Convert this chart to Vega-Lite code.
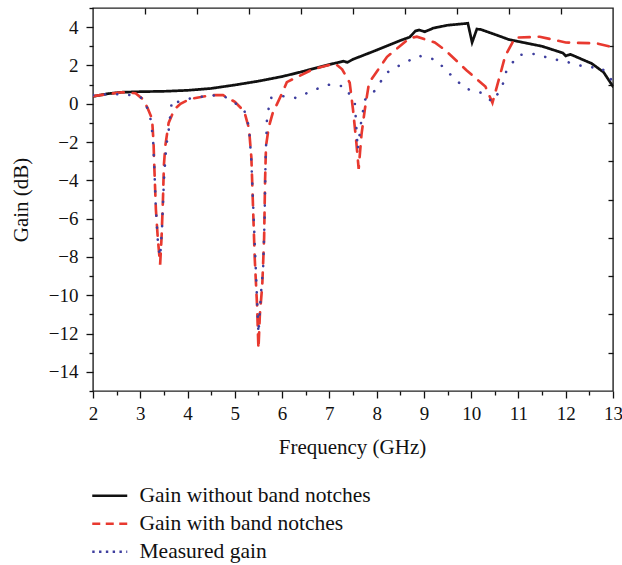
{
  "$schema": "https://vega.github.io/schema/vega-lite/v6.json",
  "width": 520,
  "height": 383,
  "autosize": "none",
  "padding": {"left": 93, "top": 8, "right": 9, "bottom": 174},
  "background": "white",
  "config": {
    "view": {"stroke": "#222", "strokeWidth": 1.4},
    "font": "Liberation Serif",
    "axis": {"grid": false, "domain": false, "tickColor": "#111", "tickWidth": 1.3, "labelFont": "Liberation Serif", "titleFont": "Liberation Serif", "labelColor": "#111", "titleColor": "#111", "titleFontWeight": "normal"},
    "legend": {"title": null, "orient": "none", "legendX": 6, "legendY": 477, "symbolType": "M-2,0H2", "symbolSize": 306, "symbolStrokeWidth": 2.6, "labelFont": "Liberation Serif", "labelFontSize": 21.5, "labelLimit": 0, "labelColor": "#111", "labelOffset": 19, "rowPadding": 5}
  },
  "data": {"values": [
    {"s": "Gain without band notches", "f": 2.0, "g": 0.38},
    {"s": "Gain without band notches", "f": 2.3, "g": 0.52},
    {"s": "Gain without band notches", "f": 2.6, "g": 0.6},
    {"s": "Gain without band notches", "f": 3.0, "g": 0.63},
    {"s": "Gain without band notches", "f": 3.5, "g": 0.65},
    {"s": "Gain without band notches", "f": 4.0, "g": 0.7},
    {"s": "Gain without band notches", "f": 4.5, "g": 0.8},
    {"s": "Gain without band notches", "f": 5.0, "g": 0.98},
    {"s": "Gain without band notches", "f": 5.5, "g": 1.18},
    {"s": "Gain without band notches", "f": 6.0, "g": 1.42},
    {"s": "Gain without band notches", "f": 6.4, "g": 1.66},
    {"s": "Gain without band notches", "f": 7.0, "g": 2.05},
    {"s": "Gain without band notches", "f": 7.3, "g": 2.22},
    {"s": "Gain without band notches", "f": 7.38, "g": 2.16},
    {"s": "Gain without band notches", "f": 7.5, "g": 2.32},
    {"s": "Gain without band notches", "f": 8.0, "g": 2.8},
    {"s": "Gain without band notches", "f": 8.5, "g": 3.3},
    {"s": "Gain without band notches", "f": 8.7, "g": 3.48},
    {"s": "Gain without band notches", "f": 8.82, "g": 3.8},
    {"s": "Gain without band notches", "f": 8.9, "g": 3.85},
    {"s": "Gain without band notches", "f": 9.02, "g": 3.76},
    {"s": "Gain without band notches", "f": 9.2, "g": 3.95},
    {"s": "Gain without band notches", "f": 9.5, "g": 4.1},
    {"s": "Gain without band notches", "f": 9.93, "g": 4.2},
    {"s": "Gain without band notches", "f": 10.02, "g": 3.2},
    {"s": "Gain without band notches", "f": 10.12, "g": 3.9},
    {"s": "Gain without band notches", "f": 10.2, "g": 3.88},
    {"s": "Gain without band notches", "f": 10.5, "g": 3.62},
    {"s": "Gain without band notches", "f": 10.8, "g": 3.35},
    {"s": "Gain without band notches", "f": 11.5, "g": 3.0},
    {"s": "Gain without band notches", "f": 11.94, "g": 2.65},
    {"s": "Gain without band notches", "f": 12.0, "g": 2.5},
    {"s": "Gain without band notches", "f": 12.1, "g": 2.58},
    {"s": "Gain without band notches", "f": 12.55, "g": 2.1},
    {"s": "Gain without band notches", "f": 12.8, "g": 1.65},
    {"s": "Gain without band notches", "f": 13.0, "g": 0.9},

    {"s": "Gain with band notches", "f": 2.0, "g": 0.4},
    {"s": "Gain with band notches", "f": 2.3, "g": 0.5},
    {"s": "Gain with band notches", "f": 2.6, "g": 0.6},
    {"s": "Gain with band notches", "f": 2.9, "g": 0.55},
    {"s": "Gain with band notches", "f": 3.05, "g": 0.25},
    {"s": "Gain with band notches", "f": 3.15, "g": -0.2},
    {"s": "Gain with band notches", "f": 3.25, "g": -0.8},
    {"s": "Gain with band notches", "f": 3.28, "g": -2.0},
    {"s": "Gain with band notches", "f": 3.3, "g": -3.5},
    {"s": "Gain with band notches", "f": 3.33, "g": -5.5},
    {"s": "Gain with band notches", "f": 3.37, "g": -7.0},
    {"s": "Gain with band notches", "f": 3.42, "g": -8.4},
    {"s": "Gain with band notches", "f": 3.45, "g": -7.0},
    {"s": "Gain with band notches", "f": 3.48, "g": -5.0},
    {"s": "Gain with band notches", "f": 3.5, "g": -3.2},
    {"s": "Gain with band notches", "f": 3.53, "g": -2.2},
    {"s": "Gain with band notches", "f": 3.6, "g": -1.0},
    {"s": "Gain with band notches", "f": 3.72, "g": -0.3},
    {"s": "Gain with band notches", "f": 3.85, "g": 0.0},
    {"s": "Gain with band notches", "f": 4.05, "g": 0.25},
    {"s": "Gain with band notches", "f": 4.5, "g": 0.45},
    {"s": "Gain with band notches", "f": 4.75, "g": 0.45},
    {"s": "Gain with band notches", "f": 5.0, "g": 0.1},
    {"s": "Gain with band notches", "f": 5.2, "g": -0.4},
    {"s": "Gain with band notches", "f": 5.3, "g": -1.3},
    {"s": "Gain with band notches", "f": 5.35, "g": -2.8},
    {"s": "Gain with band notches", "f": 5.38, "g": -5.0},
    {"s": "Gain with band notches", "f": 5.42, "g": -8.0},
    {"s": "Gain with band notches", "f": 5.47, "g": -10.5},
    {"s": "Gain with band notches", "f": 5.5, "g": -12.8},
    {"s": "Gain with band notches", "f": 5.53, "g": -11.0},
    {"s": "Gain with band notches", "f": 5.58, "g": -9.5},
    {"s": "Gain with band notches", "f": 5.62, "g": -7.0},
    {"s": "Gain with band notches", "f": 5.64, "g": -4.0},
    {"s": "Gain with band notches", "f": 5.66, "g": -2.2},
    {"s": "Gain with band notches", "f": 5.72, "g": -1.2},
    {"s": "Gain with band notches", "f": 5.8, "g": -0.5},
    {"s": "Gain with band notches", "f": 6.0, "g": 0.55},
    {"s": "Gain with band notches", "f": 6.1, "g": 1.13},
    {"s": "Gain with band notches", "f": 6.65, "g": 1.8},
    {"s": "Gain with band notches", "f": 7.12, "g": 2.1},
    {"s": "Gain with band notches", "f": 7.27, "g": 1.8},
    {"s": "Gain with band notches", "f": 7.43, "g": 1.1},
    {"s": "Gain with band notches", "f": 7.5, "g": -0.3},
    {"s": "Gain with band notches", "f": 7.57, "g": -2.0},
    {"s": "Gain with band notches", "f": 7.62, "g": -3.4},
    {"s": "Gain with band notches", "f": 7.68, "g": -1.6},
    {"s": "Gain with band notches", "f": 7.75, "g": -0.3},
    {"s": "Gain with band notches", "f": 7.84, "g": 1.1},
    {"s": "Gain with band notches", "f": 8.22, "g": 2.45},
    {"s": "Gain with band notches", "f": 8.7, "g": 3.43},
    {"s": "Gain with band notches", "f": 8.85, "g": 3.5},
    {"s": "Gain with band notches", "f": 9.23, "g": 3.2},
    {"s": "Gain with band notches", "f": 9.45, "g": 2.8},
    {"s": "Gain with band notches", "f": 9.9, "g": 1.75},
    {"s": "Gain with band notches", "f": 10.3, "g": 0.9},
    {"s": "Gain with band notches", "f": 10.45, "g": 0.05},
    {"s": "Gain with band notches", "f": 10.6, "g": 1.4},
    {"s": "Gain with band notches", "f": 10.72, "g": 2.5},
    {"s": "Gain with band notches", "f": 10.93, "g": 3.45},
    {"s": "Gain with band notches", "f": 11.45, "g": 3.5},
    {"s": "Gain with band notches", "f": 12.0, "g": 3.2},
    {"s": "Gain with band notches", "f": 12.66, "g": 3.15},
    {"s": "Gain with band notches", "f": 13.0, "g": 2.95},

    {"s": "Measured gain", "f": 2.0, "g": 0.45},
    {"s": "Measured gain", "f": 2.3, "g": 0.5},
    {"s": "Measured gain", "f": 2.5, "g": 0.5},
    {"s": "Measured gain", "f": 2.8, "g": 0.45},
    {"s": "Measured gain", "f": 3.05, "g": 0.3},
    {"s": "Measured gain", "f": 3.2, "g": -0.5},
    {"s": "Measured gain", "f": 3.27, "g": -1.8},
    {"s": "Measured gain", "f": 3.3, "g": -3.5},
    {"s": "Measured gain", "f": 3.33, "g": -5.5},
    {"s": "Measured gain", "f": 3.38, "g": -7.5},
    {"s": "Measured gain", "f": 3.42, "g": -8.0},
    {"s": "Measured gain", "f": 3.46, "g": -6.5},
    {"s": "Measured gain", "f": 3.5, "g": -4.0},
    {"s": "Measured gain", "f": 3.55, "g": -2.2},
    {"s": "Measured gain", "f": 3.6, "g": -1.4},
    {"s": "Measured gain", "f": 3.67, "g": 0.2},
    {"s": "Measured gain", "f": 3.8, "g": 0.1},
    {"s": "Measured gain", "f": 4.0, "g": 0.25},
    {"s": "Measured gain", "f": 4.5, "g": 0.45},
    {"s": "Measured gain", "f": 4.8, "g": 0.35},
    {"s": "Measured gain", "f": 5.0, "g": 0.05},
    {"s": "Measured gain", "f": 5.2, "g": -0.35},
    {"s": "Measured gain", "f": 5.3, "g": -1.2},
    {"s": "Measured gain", "f": 5.35, "g": -3.0},
    {"s": "Measured gain", "f": 5.4, "g": -6.0},
    {"s": "Measured gain", "f": 5.45, "g": -9.0},
    {"s": "Measured gain", "f": 5.5, "g": -12.0},
    {"s": "Measured gain", "f": 5.55, "g": -10.0},
    {"s": "Measured gain", "f": 5.6, "g": -8.5},
    {"s": "Measured gain", "f": 5.63, "g": -6.0},
    {"s": "Measured gain", "f": 5.65, "g": -3.0},
    {"s": "Measured gain", "f": 5.68, "g": -0.8},
    {"s": "Measured gain", "f": 5.75, "g": 0.3},
    {"s": "Measured gain", "f": 6.06, "g": 0.4},
    {"s": "Measured gain", "f": 6.3, "g": 0.3},
    {"s": "Measured gain", "f": 6.65, "g": 0.7},
    {"s": "Measured gain", "f": 7.0, "g": 1.0},
    {"s": "Measured gain", "f": 7.33, "g": 0.9},
    {"s": "Measured gain", "f": 7.54, "g": 0.0},
    {"s": "Measured gain", "f": 7.6, "g": -2.4},
    {"s": "Measured gain", "f": 7.67, "g": -1.0},
    {"s": "Measured gain", "f": 7.75, "g": 0.2},
    {"s": "Measured gain", "f": 7.97, "g": 0.7},
    {"s": "Measured gain", "f": 8.2, "g": 1.6},
    {"s": "Measured gain", "f": 8.55, "g": 2.1},
    {"s": "Measured gain", "f": 8.9, "g": 2.5},
    {"s": "Measured gain", "f": 9.25, "g": 2.3},
    {"s": "Measured gain", "f": 9.55, "g": 1.55},
    {"s": "Measured gain", "f": 9.87, "g": 0.8},
    {"s": "Measured gain", "f": 10.2, "g": 0.58},
    {"s": "Measured gain", "f": 10.45, "g": 0.1},
    {"s": "Measured gain", "f": 10.65, "g": 0.85},
    {"s": "Measured gain", "f": 10.75, "g": 1.75},
    {"s": "Measured gain", "f": 11.0, "g": 2.55},
    {"s": "Measured gain", "f": 11.35, "g": 2.6},
    {"s": "Measured gain", "f": 11.7, "g": 2.35},
    {"s": "Measured gain", "f": 12.0, "g": 2.2},
    {"s": "Measured gain", "f": 12.45, "g": 1.9},
    {"s": "Measured gain", "f": 12.75, "g": 1.9},
    {"s": "Measured gain", "f": 13.0, "g": 1.15}
  ]},
  "resolve": {"axis": {"x": "independent", "y": "independent"}, "scale": {"color": "independent", "strokeDash": "independent", "strokeWidth": "independent"}},
  "layer": [
    {
      "mark": {"type": "line", "strokeCap": "round", "clip": true},
      "encoding": {
        "x": {"field": "f", "type": "quantitative", "scale": {"domain": [2, 13], "nice": false, "zero": false},
          "axis": {"orient": "bottom", "values": [2,3,4,5,6,7,8,9,10,11,12,13], "tickSize": 7, "labelFontSize": 19, "labelPadding": 6, "labelFlush": false, "title": "Frequency (GHz)", "titleFontSize": 21, "titleBaseline": "middle", "titleX": 259, "titleY": 56}},
        "y": {"field": "g", "type": "quantitative", "scale": {"domain": [-15, 5], "nice": false, "zero": false},
          "axis": {"orient": "left", "values": [-14,-12,-10,-8,-6,-4,-2,0,2,4], "tickSize": 7, "labelFontSize": 19, "labelPadding": 8, "labelFlush": false, "title": "Gain (dB)", "titleFontSize": 21, "titleBaseline": "middle", "titleX": -72, "titleY": 191.5}},
        "strokeWidth": {"field": "s", "type": "nominal", "legend": null,
          "scale": {"domain": ["Gain without band notches", "Gain with band notches", "Measured gain"], "range": [2.7, 2.6, 3.4]}},
        "color": {"field": "s", "type": "nominal", "legend": null,
          "scale": {"domain": ["Gain without band notches", "Gain with band notches", "Measured gain"], "range": ["#111111", "#e8392f", "#3e3e9e"]}},
        "strokeDash": {"field": "s", "type": "nominal", "legend": null,
          "scale": {"domain": ["Gain without band notches", "Gain with band notches", "Measured gain"], "range": [[1, 0], [11, 9], [0.1, 12]]}}
      }
    },
    {
      "mark": {"type": "point", "opacity": 0},
      "encoding": {
        "x": {"field": "f", "type": "quantitative", "axis": {"orient": "bottom", "values": [2.5,3.5,4.5,5.5,6.5,7.5,8.5,9.5,10.5,11.5,12.5], "tickSize": 4, "labels": false, "title": null}},
        "y": {"field": "g", "type": "quantitative", "axis": {"orient": "left", "values": [-15,-13,-11,-9,-7,-5,-3,-1,1,3,5], "tickSize": 4, "labels": false, "title": null}}
      }
    },
    {
      "mark": {"type": "point", "opacity": 0},
      "encoding": {
        "x": {"field": "f", "type": "quantitative", "axis": {"orient": "top", "values": [3.1,4.2,5.3,6.4,7.5,8.6,9.7,10.8,11.9], "tickSize": -6, "labels": false, "title": null}},
        "y": {"field": "g", "type": "quantitative", "axis": {"orient": "right", "values": [-13,-11,-9,-7,-5,-3,-1,1,3], "tickSize": -5, "labels": false, "title": null}}
      }
    },
    {
      "transform": [{"filter": "datum.f > 100"}],
      "mark": {"type": "line", "strokeCap": "round"},
      "encoding": {
        "x": {"field": "f", "type": "quantitative", "axis": null},
        "y": {"field": "g", "type": "quantitative", "axis": null},
        "color": {"field": "s", "type": "nominal",
          "scale": {"domain": ["Gain without band notches", "Gain with band notches", "Measured gain"], "range": ["#111111", "#e8392f", "#3e3e9e"]},
          "legend": {"symbolStrokeWidth": 2.6}},
        "strokeDash": {"field": "s", "type": "nominal",
          "scale": {"domain": ["Gain without band notches", "Gain with band notches", "Measured gain"], "range": [[1, 0], [8, 5.5], [2.4, 4.4]]},
          "legend": {"symbolStrokeWidth": 2.6}}
      }
    }
  ]
}
